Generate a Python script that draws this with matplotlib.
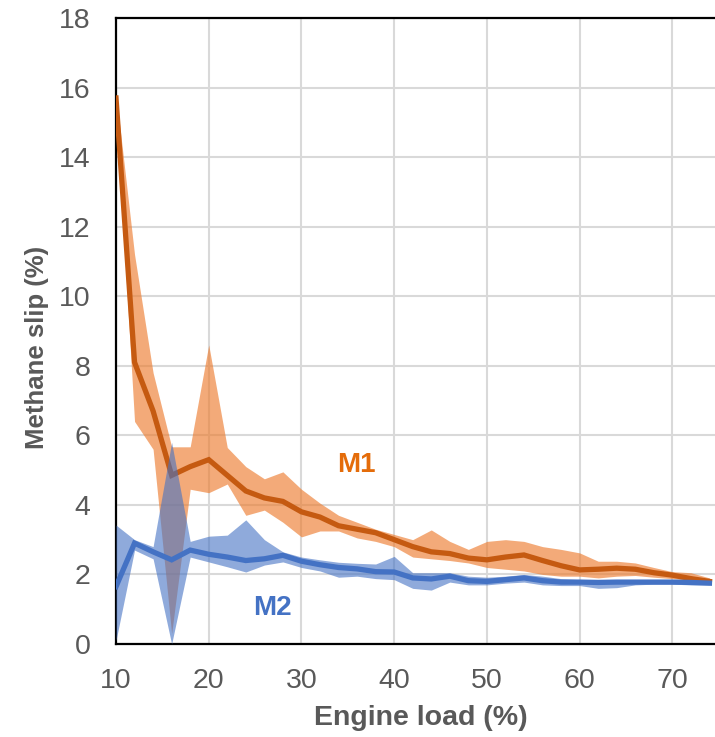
import matplotlib
matplotlib.use("Agg")
import matplotlib.pyplot as plt

plt.rcParams['font.family'] = ['Liberation Sans', 'DejaVu Sans']

engine_load = [10, 12, 14, 16, 18, 20, 22, 24, 26, 28, 30, 32, 34, 36, 38, 40, 42,
               44, 46, 48, 50, 52, 54, 56, 58, 60, 62, 64, 66, 68, 70, 72, 74]

m1_mean = [15.7, 8.1, 6.7, 4.85, 5.1, 5.3, 4.85, 4.4, 4.2, 4.1, 3.8, 3.65, 3.4, 3.3, 3.2, 3.0, 2.8,
           2.65, 2.6, 2.47, 2.42, 2.5, 2.56, 2.4, 2.25, 2.13, 2.15, 2.18, 2.15, 2.05, 1.98, 1.88, 1.8]
m1_upper = [15.85, 11.2, 7.8, 5.67, 5.67, 8.6, 5.65, 5.1, 4.75, 4.95, 4.45, 4.05, 3.7, 3.5, 3.3, 3.15, 3.0,
            3.28, 2.95, 2.72, 2.95, 3.0, 2.95, 2.8, 2.72, 2.62, 2.38, 2.38, 2.33, 2.2, 2.08, 2.05, 1.9]
m1_lower = [15.5, 6.4, 5.6, 0.3, 4.45, 4.35, 4.6, 3.7, 3.85, 3.5, 3.08, 3.25, 3.25, 3.05, 2.95, 2.8, 2.5,
            2.45, 2.4, 2.33, 2.2, 2.15, 2.1, 2.0, 1.95, 1.95, 1.9, 1.95, 1.97, 1.92, 1.88, 1.83, 1.78]

m2_mean = [1.65, 2.9, 2.65, 2.42, 2.7, 2.58, 2.5, 2.4, 2.45, 2.55, 2.38, 2.28, 2.2, 2.16, 2.08, 2.07, 1.9,
           1.87, 1.95, 1.82, 1.8, 1.85, 1.9, 1.82, 1.78, 1.78, 1.77, 1.78, 1.78, 1.78, 1.78, 1.77, 1.75]
m2_upper = [3.42, 3.0, 2.8, 5.8, 2.95, 3.1, 3.13, 3.57, 3.0, 2.65, 2.5, 2.42, 2.35, 2.32, 2.3, 2.52, 2.05,
            2.05, 2.05, 1.95, 1.92, 1.95, 2.0, 1.95, 1.88, 1.85, 1.85, 1.85, 1.85, 1.83, 1.83, 1.82, 1.8]
m2_lower = [0.1, 2.7, 2.45, 0.0, 2.5, 2.36, 2.22, 2.07, 2.27, 2.36, 2.2, 2.1, 1.92, 1.95, 1.88, 1.85, 1.6,
            1.55, 1.78, 1.7, 1.7, 1.75, 1.78, 1.7, 1.68, 1.68, 1.6, 1.62, 1.7, 1.72, 1.72, 1.7, 1.7]

x_ticks = [10, 20, 30, 40, 50, 60, 70]
y_ticks = [0, 2, 4, 6, 8, 10, 12, 14, 16, 18]

fig = plt.figure(figsize=(7.15, 7.37), dpi=100)
ax = fig.add_axes([116/715, 1-644/737, 1-116/715, (644-18)/737])

ax.fill_between(engine_load, m1_lower, m1_upper, color='#ED7D31', alpha=0.65, lw=0, zorder=2)
ax.plot(engine_load, m1_mean, color='#C55A11', lw=3.8, zorder=3, solid_joinstyle='miter')
ax.fill_between(engine_load, m2_lower, m2_upper, color='#4472C4', alpha=0.6, lw=0, zorder=4)
ax.plot(engine_load, m2_mean, color='#4472C4', lw=3.8, zorder=5, solid_joinstyle='miter')

ax.text(35.9, 5.15, 'M1', color='#E46C0A', fontsize=20, fontweight='bold', ha='center', va='center', zorder=6)
ax.text(26.9, 1.04, 'M2', color='#4472C4', fontsize=20, fontweight='bold', ha='center', va='center', zorder=6)

ax.set_xlim(10, 74.6)
ax.set_ylim(0, 18)
ax.set_xticks(x_ticks)
ax.set_yticks(y_ticks)
ax.tick_params(axis='both', length=0, labelsize=20.5, labelcolor='#595959')
ax.tick_params(axis='x', pad=17)
ax.tick_params(axis='y', pad=18.5)
ax.grid(True, color='#D9D9D9', lw=1.5, zorder=0)
ax.set_axisbelow(True)

for s in ['top', 'left', 'bottom']:
    ax.spines[s].set_color('black')
    ax.spines[s].set_linewidth(1.6)
ax.spines['right'].set_visible(False)

ax.set_xlabel('Engine load (%)', fontsize=20.5, fontweight='bold', color='#595959')
ax.set_ylabel('Methane slip (%)', fontsize=18.5, fontweight='bold', color='#595959')
# label positions in axes coordinates
ax.xaxis.set_label_coords((421 - 116) / (715 - 116), -(718 - 644) / (644 - 18))
ax.yaxis.set_label_coords(-(116 - 37) / (715 - 116), (644 - 347) / (644 - 18))
ax.xaxis.label.set_va('center')
ax.yaxis.label.set_va('center')

fig.savefig('out.png', dpi=100)
